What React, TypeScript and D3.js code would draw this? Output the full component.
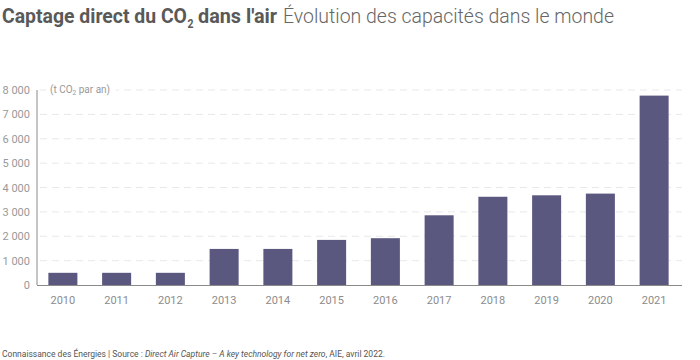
import React from 'react';
import * as d3 from 'd3';

const years = ['2010', '2011', '2012', '2013', '2014', '2015', '2016', '2017', '2018', '2019', '2020', '2021'];
const capacity = [500, 500, 500, 1480, 1480, 1850, 1920, 2860, 3620, 3680, 3750, 7770];
const yTicks = [0, 1000, 2000, 3000, 4000, 5000, 6000, 7000, 8000];

const W = 700;
const H = 360;
const font = 'Roboto, "Noto Sans", sans-serif';

const fmt = (v: number) => (v >= 1000 ? `${Math.floor(v / 1000)} ${String(v % 1000).padStart(3, '0')}` : String(v));

const App: React.FC = () => {
  // plot area
  const x = d3.scaleBand<string>().domain(years).range([36, 681]).paddingInner(0.46).paddingOuter(0.23);
  const y = d3.scaleLinear().domain([0, 8000]).range([285, 90]);
  const barColor = '#5b5880';

  return (
    <svg width={W} height={H} style={{ position: 'fixed', left: 0, top: 0, background: '#fff' }} fontFamily={font}>
      {/* title, condensed look via textLength */}
      <g fill="#595959" fontWeight={700}>
        <text x={2} y={23} fontSize={21} textLength={185} lengthAdjust="spacingAndGlyphs">Captage direct du CO</text>
        <text x={187.5} y={28} fontSize={12} textLength={6} lengthAdjust="spacingAndGlyphs">2</text>
        <text x={198} y={23} fontSize={21} textLength={79} lengthAdjust="spacingAndGlyphs">dans l'air</text>
      </g>
      <text x={283} y={23} fontSize={21} fontWeight={300} fill="#666" textLength={331} lengthAdjust="spacingAndGlyphs">
        Évolution des capacités dans le monde
      </text>

      {/* grid */}
      {yTicks.filter(t => t > 0).map(t => (
        <line key={t} x1={40} x2={682} y1={y(t)} y2={y(t)} stroke="#e8e8e8" strokeDasharray="7,5" />
      ))}

      {/* unit label */}
      <rect x={46} y={82} width={70} height={14} fill="#fff" />
      <text x={50} y={93} fontSize={10} fill="#999">
        (t CO<tspan fontSize={6.5} dy={2}>2</tspan><tspan dy={-2}> par an)</tspan>
      </text>

      {/* bars */}
      {years.map((yr, i) => (
        <rect key={yr} x={x(yr)} y={y(capacity[i])} width={x.bandwidth()} height={y(0) - y(capacity[i])} fill={barColor} />
      ))}

      {/* axes */}
      <line x1={37} x2={37} y1={y(8000)} y2={y(0)} stroke="#8a8a8a" />
      <line x1={37} x2={682} y1={y(0) + 0.5} y2={y(0) + 0.5} stroke="#8a8a8a" />

      {yTicks.map(t => (
        <text key={t} x={30} y={y(t) + 4} fontSize={11} fill="#999" textAnchor="end">
          {fmt(t)}
        </text>
      ))}

      {years.map(yr => (
        <text key={yr} x={(x(yr) || 0) + x.bandwidth() / 2} y={304} fontSize={11} fill="#8c8c8c" textAnchor="middle">
          {yr}
        </text>
      ))}

      {/* footer */}
      <text x={2} y={357} fontSize={8.5} fill="#555">
        Connaissance des Énergies | Source : <tspan fontStyle="italic">Direct Air Capture – A key technology for net zero</tspan>, AIE, avril 2022.
      </text>
    </svg>
  );
};

export default App;
